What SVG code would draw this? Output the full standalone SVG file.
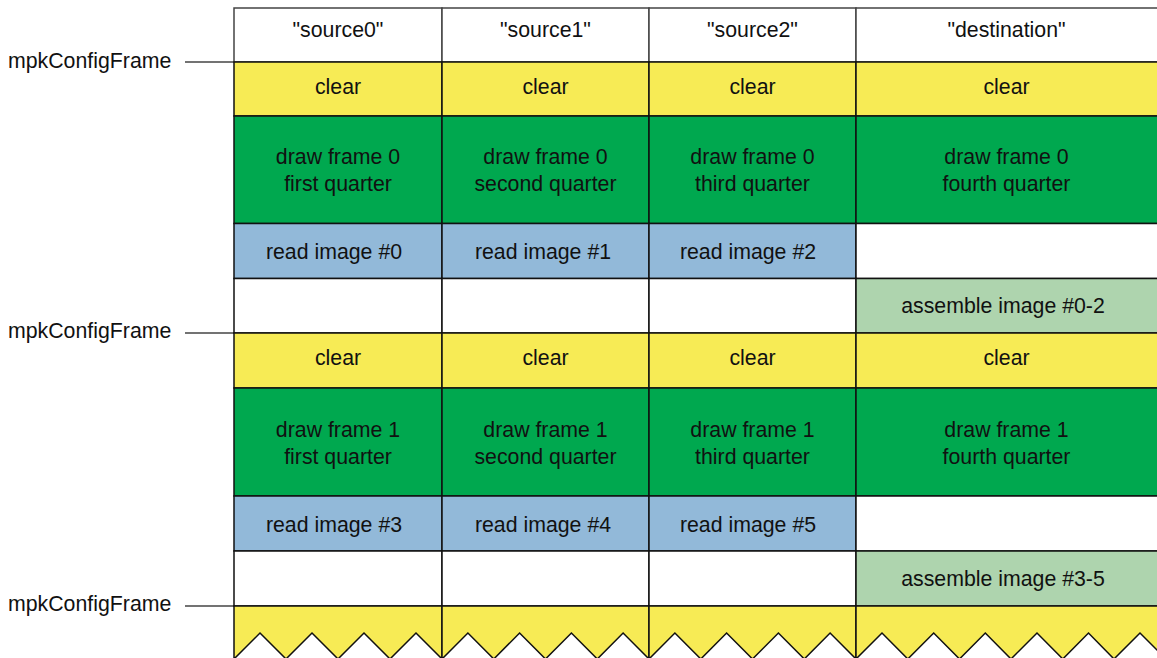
<svg xmlns="http://www.w3.org/2000/svg" width="1157" height="658" viewBox="0 0 1157 658">
<style>
text{font-family:"Liberation Sans",Arial,sans-serif;font-size:21.3px;fill:#111;text-anchor:middle}
.lbl{text-anchor:start}
.hdr{fill:#fff;stroke:#444;stroke-width:1.5}
.clr{fill:#F7EB55;stroke:#111;stroke-width:1.5}
.drw{fill:#00A84F;stroke:#111;stroke-width:1.5}
.rd{fill:#92B9D9;stroke:#111;stroke-width:1.5}
.asm{fill:#AED4AE;stroke:#111;stroke-width:1.5}
.emp{fill:#fff;stroke:#111;stroke-width:1.5}
.zz{fill:#F7EB55;stroke:#111;stroke-width:1.5}
.tick{stroke:#444;stroke-width:1.5;fill:none}
</style>
<rect width="1157" height="658" fill="#fff"/>
<g id="labels">
<text class="lbl" x="8" y="68">mpkConfigFrame</text>
<text class="lbl" x="8" y="338">mpkConfigFrame</text>
<text class="lbl" x="8" y="611">mpkConfigFrame</text>
</g>
<g id="connectors">
<line class="tick" x1="185" y1="62" x2="234" y2="62"/>
<line class="tick" x1="185" y1="333" x2="234" y2="333"/>
<line class="tick" x1="185" y1="606" x2="234" y2="606"/>
</g>
<g id="header">
<rect class="hdr" x="234" y="8" width="208" height="54"/><text x="338" y="37">"source0"</text>
<rect class="hdr" x="442" y="8" width="207" height="54"/><text x="545.5" y="37">"source1"</text>
<rect class="hdr" x="649" y="8" width="207" height="54"/><text x="752.5" y="37">"source2"</text>
<rect class="hdr" x="856" y="8" width="303" height="54"/><text x="1006.5" y="37">"destination"</text>
</g>
<g id="frame0">
<g id="clear0-0"><rect class="clr" x="234" y="62" width="208" height="54"/><text x="338" y="94">clear</text></g>
<g id="clear0-1"><rect class="clr" x="442" y="62" width="207" height="54"/><text x="545.5" y="94">clear</text></g>
<g id="clear0-2"><rect class="clr" x="649" y="62" width="207" height="54"/><text x="752.5" y="94">clear</text></g>
<g id="clear0-3"><rect class="clr" x="856" y="62" width="303" height="54"/><text x="1006.5" y="94">clear</text></g>
<g id="draw0-0"><rect class="drw" x="234" y="116" width="208" height="107.5"/><text x="338" y="164">draw frame 0</text><text x="338" y="191">first quarter</text></g>
<g id="draw0-1"><rect class="drw" x="442" y="116" width="207" height="107.5"/><text x="545.5" y="164">draw frame 0</text><text x="545.5" y="191">second quarter</text></g>
<g id="draw0-2"><rect class="drw" x="649" y="116" width="207" height="107.5"/><text x="752.5" y="164">draw frame 0</text><text x="752.5" y="191">third quarter</text></g>
<g id="draw0-3"><rect class="drw" x="856" y="116" width="303" height="107.5"/><text x="1006.5" y="164">draw frame 0</text><text x="1006.5" y="191">fourth quarter</text></g>
<g id="read0"><rect class="rd" x="234" y="223.5" width="208" height="55"/><text x="334" y="259">read image #0</text></g>
<g id="read1"><rect class="rd" x="442" y="223.5" width="207" height="55"/><text x="543" y="259">read image #1</text></g>
<g id="read2"><rect class="rd" x="649" y="223.5" width="207" height="55"/><text x="748" y="259">read image #2</text></g>
<g id="empty0-3"><rect class="emp" x="856" y="223.5" width="303" height="55"/></g>
<g id="empty0-0"><rect class="emp" x="234" y="278.5" width="208" height="54.5"/></g>
<g id="empty0-1"><rect class="emp" x="442" y="278.5" width="207" height="54.5"/></g>
<g id="empty0-2"><rect class="emp" x="649" y="278.5" width="207" height="54.5"/></g>
<g id="assemble0"><rect class="asm" x="856" y="278.5" width="303" height="54.5"/><text x="1003" y="313">assemble image #0-2</text></g>
</g>
<g id="frame1">
<g id="clear1-0"><rect class="clr" x="234" y="333" width="208" height="55"/><text x="338" y="365">clear</text></g>
<g id="clear1-1"><rect class="clr" x="442" y="333" width="207" height="55"/><text x="545.5" y="365">clear</text></g>
<g id="clear1-2"><rect class="clr" x="649" y="333" width="207" height="55"/><text x="752.5" y="365">clear</text></g>
<g id="clear1-3"><rect class="clr" x="856" y="333" width="303" height="55"/><text x="1006.5" y="365">clear</text></g>
<g id="draw1-0"><rect class="drw" x="234" y="388" width="208" height="108"/><text x="338" y="437">draw frame 1</text><text x="338" y="464">first quarter</text></g>
<g id="draw1-1"><rect class="drw" x="442" y="388" width="207" height="108"/><text x="545.5" y="437">draw frame 1</text><text x="545.5" y="464">second quarter</text></g>
<g id="draw1-2"><rect class="drw" x="649" y="388" width="207" height="108"/><text x="752.5" y="437">draw frame 1</text><text x="752.5" y="464">third quarter</text></g>
<g id="draw1-3"><rect class="drw" x="856" y="388" width="303" height="108"/><text x="1006.5" y="437">draw frame 1</text><text x="1006.5" y="464">fourth quarter</text></g>
<g id="read3"><rect class="rd" x="234" y="496" width="208" height="55"/><text x="334" y="532">read image #3</text></g>
<g id="read4"><rect class="rd" x="442" y="496" width="207" height="55"/><text x="543" y="532">read image #4</text></g>
<g id="read5"><rect class="rd" x="649" y="496" width="207" height="55"/><text x="748" y="532">read image #5</text></g>
<g id="empty1-3"><rect class="emp" x="856" y="496" width="303" height="55"/></g>
<g id="empty1-0"><rect class="emp" x="234" y="551" width="208" height="55"/></g>
<g id="empty1-1"><rect class="emp" x="442" y="551" width="207" height="55"/></g>
<g id="empty1-2"><rect class="emp" x="649" y="551" width="207" height="55"/></g>
<g id="assemble1"><rect class="asm" x="856" y="551" width="303" height="55"/><text x="1003" y="586">assemble image #3-5</text></g>
</g>
<g id="frame2">
<g id="next0"><path class="zz" d="M234,659 L234,606 L442,606 L442,659 L416,633 L390,659 L364,633 L338,659 L312,633 L286,659 L260,633 Z"/></g>
<g id="next1"><path class="zz" d="M442,659 L442,606 L649,606 L649,659 L623.1,633 L597.3,659 L571.4,633 L545.5,659 L519.6,633 L493.8,659 L467.9,633 Z"/></g>
<g id="next2"><path class="zz" d="M649,659 L649,606 L856,606 L856,659 L830.1,633 L804.3,659 L778.4,633 L752.5,659 L726.6,633 L700.8,659 L674.9,633 Z"/></g>
<g id="next3"><path class="zz" d="M856,659 L856,606 L1170,606 L1170,659 L1166,659 L1140,633 L1114,659 L1088.5,633 L1062.8,659 L1037,633 L1011,659 L985.3,633 L959.5,659 L933.7,633 L907.8,659 L882,633 Z"/></g>
</g>
</svg>
